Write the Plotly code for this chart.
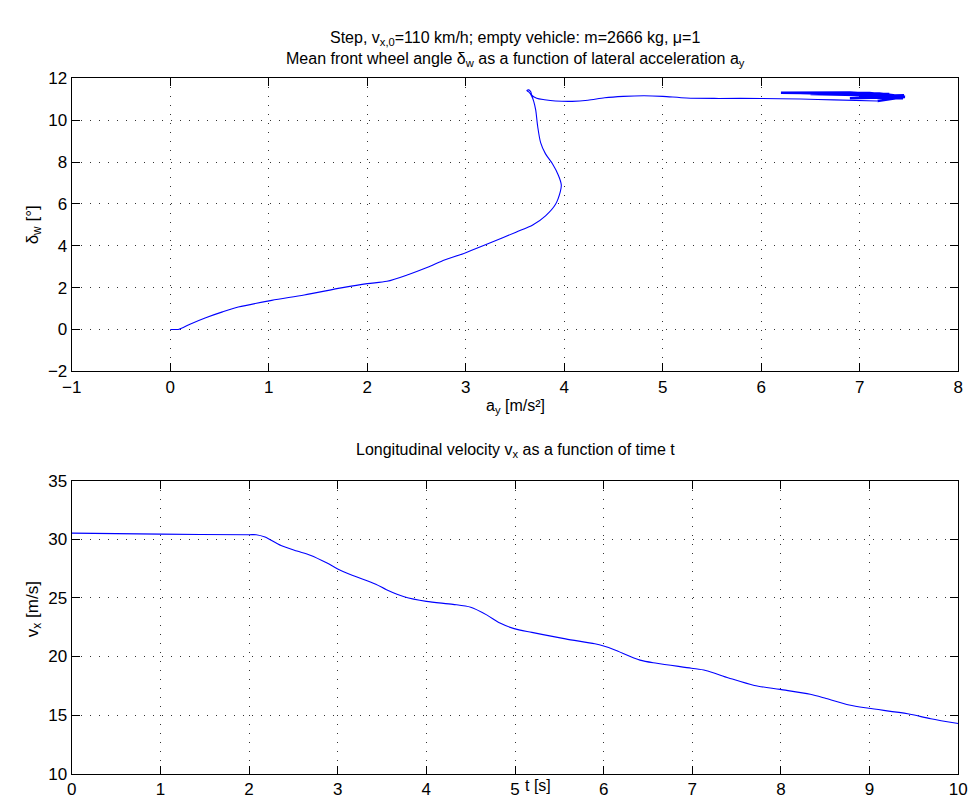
import plotly.graph_objects as go

# ---- Data: top plot (mean front wheel angle vs lateral acceleration) ----
ay_main = [0.0, 0.05, 0.09, 0.2, 0.36, 0.53, 0.69, 1.03, 1.36, 1.75, 2.0, 2.2, 2.42, 2.6,
           2.75, 3.0, 3.25, 3.51, 3.68, 3.81, 3.91, 3.96, 3.97, 3.94, 3.88, 3.81, 3.76,
           3.73, 3.71, 3.69, 3.67, 3.64, 3.62, 3.64, 3.66, 3.67, 3.72, 3.8, 3.91, 4.08,
           4.24, 4.41, 4.6, 4.81, 5.0, 5.24, 5.57, 6.0, 6.4, 6.74, 7.18]
delta_main = [0.0, 0.0, 0.01, 0.25, 0.56, 0.84, 1.07, 1.39, 1.65, 2.0, 2.19, 2.3, 2.63, 2.95,
              3.25, 3.67, 4.14, 4.65, 4.99, 5.43, 5.97, 6.59, 6.91, 7.37, 7.92, 8.39, 8.93,
              9.71, 10.49, 10.9, 11.15, 11.35, 11.42, 11.45, 11.36, 11.2, 11.05, 10.98, 10.92, 10.9,
              10.95, 11.07, 11.14, 11.17, 11.14, 11.06, 11.04, 11.04, 11.01, 10.97, 10.92]
ay_osc = [7.18, 7.45, 6.9, 7.44, 6.5, 7.3, 6.2, 6.9, 7.35, 6.7, 7.42, 7.0, 7.46, 6.95,
          7.4, 6.6, 7.1, 7.45, 6.8, 7.43, 6.4, 7.2, 7.46, 6.9, 7.44, 7.05, 7.45]
delta_osc = [10.92, 11.1, 11.05, 11.15, 11.25, 11.25, 11.31, 11.33, 11.2, 11.28, 11.12, 11.1,
             11.1, 11.2, 11.18, 11.3, 11.3, 11.12, 11.27, 11.16, 11.3, 11.28, 11.12, 11.22,
             11.05, 11.15, 11.2]

# ---- Data: bottom plot (longitudinal velocity vs time) ----
t_s = [0, 1, 2, 2.08, 2.18, 2.36, 2.54, 2.69, 2.88, 3.0, 3.17, 3.43, 3.55, 3.75, 4.0, 4.3,
       4.5, 4.68, 4.83, 4.99, 5.19, 5.57, 5.9, 6.0, 6.12, 6.41, 6.6, 6.99, 7.15, 7.41, 7.7,
       7.99, 8.33, 8.51, 8.77, 8.99, 9.43, 9.69, 10.0]
vx = [30.53, 30.44, 30.39, 30.39, 30.19, 29.47, 29.0, 28.64, 27.97, 27.47, 26.92, 26.17,
      25.7, 25.1, 24.7, 24.45, 24.2, 23.55, 22.85, 22.38, 22.06, 21.5, 21.08, 20.89, 20.58,
      19.69, 19.42, 19.0, 18.81, 18.17, 17.53, 17.19, 16.78, 16.42, 15.86, 15.58, 15.11,
      14.69, 14.28]

top_xticks = [-1, 0, 1, 2, 3, 4, 5, 6, 7, 8]
top_yticks = [-2, 0, 2, 4, 6, 8, 10, 12]
bot_xticks = [0, 1, 2, 3, 4, 5, 6, 7, 8, 9, 10]
bot_yticks = [10, 15, 20, 25, 30, 35]

W, H = 979, 812
FONT = "Liberation Sans, Arial, sans-serif"
BLUE = "#0000ff"

fig = go.Figure()
fig.add_trace(go.Scatter(x=ay_main, y=delta_main, mode="lines",
                         line=dict(color=BLUE, width=1.1, shape="spline", smoothing=0.8),
                         xaxis="x", yaxis="y", showlegend=False))
fig.add_trace(go.Scatter(x=ay_osc, y=delta_osc, mode="lines", line=dict(color=BLUE, width=2.4),
                         xaxis="x", yaxis="y", showlegend=False))
fig.add_trace(go.Scatter(x=t_s, y=vx, mode="lines",
                         line=dict(color=BLUE, width=1.1, shape="spline", smoothing=0.8),
                         xaxis="x2", yaxis="y2", showlegend=False))

def px2x(p):
    return p / W

def px2y(p):
    return 1 - p / H

axis_common = dict(showline=True, linecolor="black", linewidth=1.2, mirror="allticks",
                   ticks="inside", ticklen=8, tickcolor="black", tickwidth=1,
                   showgrid=True, gridcolor="#333333", gridwidth=1, griddash="1px,8px",
                   zeroline=False, tickfont=dict(family=FONT, size=17, color="black"),
                   fixedrange=True)

fig.update_layout(
    width=W, height=H, margin=dict(l=0, r=0, t=0, b=0),
    paper_bgcolor="white", plot_bgcolor="white",
    xaxis=dict(domain=[px2x(63), px2x(967)], range=[-1, 8], tickvals=top_xticks,
               ticktext=["\u22121" if v < 0 else str(v) for v in top_xticks], anchor="y",
               **axis_common),
    yaxis=dict(domain=[px2y(371), px2y(71)], range=[-2, 12], tickvals=top_yticks,
               ticktext=["\u22122" if v < 0 else str(v) for v in top_yticks], anchor="x",
               **axis_common),
    xaxis2=dict(domain=[px2x(63), px2x(967)], range=[0, 10], tickvals=bot_xticks,
                anchor="y2", **axis_common),
    yaxis2=dict(domain=[px2y(783), px2y(483)], range=[10, 35], tickvals=bot_yticks,
                anchor="x2", **axis_common),
)

def ann(text, x, y, size=16, angle=0):
    fig.add_annotation(text=text, x=px2x(x), y=px2y(y), xref="paper", yref="paper",
                       showarrow=False, textangle=angle, xanchor="center", yanchor="middle",
                       font=dict(family=FONT, size=size, color="black"))

ann("Step, v<sub>x,0</sub>=110 km/h; empty vehicle: m=2666 kg, \u03bc=1", 515, 30)
ann("Mean front wheel angle \u03b4<sub>w</sub> as a function of lateral acceleration a<sub>y</sub>", 515, 52)
ann("Longitudinal velocity v<sub>x</sub> as a function of time t", 515, 452)
ann("a<sub>y</sub> [m/s\u00b2]", 515, 407)
ann("t [s]", 538, 795)
ann("\u03b4<sub>w</sub> [\u00b0]", 24, 221, size=17, angle=-90)
ann("v<sub>x</sub> [m/s]", 24, 615, size=17, angle=-90)

fig.write_html("out.html")
